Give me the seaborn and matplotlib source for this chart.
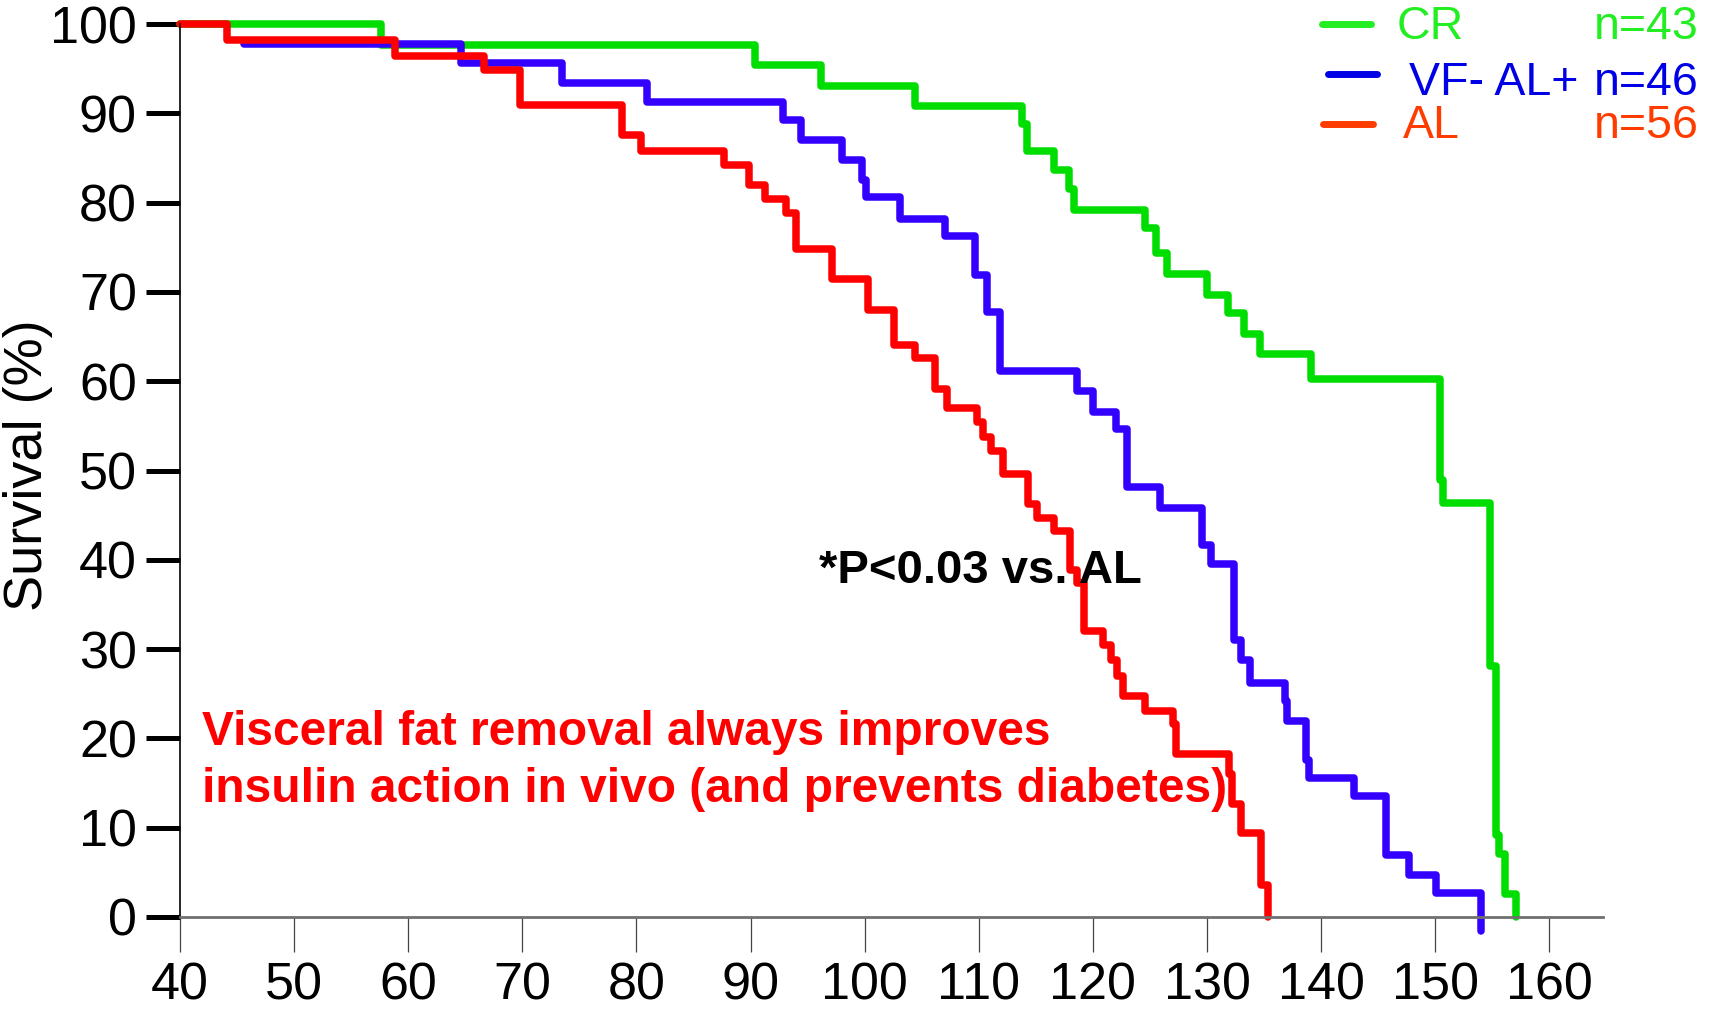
import matplotlib
matplotlib.use("Agg")
import matplotlib.pyplot as plt
import seaborn as sns
import pandas as pd
from matplotlib.lines import Line2D

# Survival curves: time (x) and % surviving after each step
cr_time = [40, 57.6, 90.4, 96.2, 104.4, 113.75, 114.25, 116.6, 117.9, 118.3,
           124.6, 125.5, 126.5, 130.0, 131.8, 133.2, 134.6, 139.1, 150.4, 150.7,
           154.8, 155.3, 155.6, 156.1, 157.1]
cr_surv = [100, 97.7, 95.4, 93.1, 90.8, 88.8, 85.8, 83.6, 81.5, 79.2,
           77.1, 74.4, 72.0, 69.7, 67.6, 65.3, 63.0, 60.3, 48.9, 46.4,
           28.1, 9.2, 7.0, 2.6, 0]

vf_time = [45.6, 64.6, 73.5, 80.9, 92.8, 94.4, 98.05, 99.8, 100.1, 103.1,
           107.0, 109.7, 110.7, 111.9, 118.6, 120.0, 122.0, 123.0, 125.9, 129.6,
           130.35, 132.4, 133.0, 133.8, 136.8, 137.0, 138.7, 138.9, 142.9, 145.7,
           147.7, 150.1, 154.0]
vf_surv = [97.8, 95.6, 93.4, 91.3, 89.3, 87.0, 84.8, 82.5, 80.6, 78.2,
           76.3, 71.9, 67.7, 61.1, 58.9, 56.6, 54.7, 48.1, 45.8, 41.7,
           39.5, 31.0, 28.8, 26.2, 24.2, 22.0, 17.6, 15.6, 13.5, 6.9,
           4.7, 2.7, -1.6]

al_time = [40, 44.1, 58.8, 66.6, 69.8, 78.7, 80.4, 87.7, 89.9, 91.3,
           93.1, 94.0, 97.1, 100.3, 102.6, 104.4, 106.2, 107.2, 109.8, 110.4,
           111.1, 112.1, 114.3, 115.1, 116.6, 118.0, 118.6, 119.25, 120.9, 121.6,
           122.1, 122.6, 124.55, 127.0, 127.3, 131.9, 132.2, 133.0, 134.7, 135.35]
al_surv = [100, 98.2, 96.4, 94.8, 90.9, 87.6, 85.8, 84.2, 82.0, 80.4,
           78.8, 74.8, 71.5, 68.0, 64.1, 62.6, 59.1, 57.0, 55.4, 53.7,
           52.2, 49.6, 46.3, 44.7, 43.2, 38.9, 37.4, 32.0, 30.5, 28.8,
           27.0, 24.7, 23.1, 21.6, 18.2, 16.0, 12.6, 9.4, 3.6, 0]

groups = ["CR", "VF- AL+", "AL"]
group_n = ["n=43", "n=46", "n=56"]
x_ticks = list(range(40, 161, 10))
y_ticks = list(range(0, 101, 10))

curve_colors = {"CR": "#00DD00", "VF- AL+": "#3300FF", "AL": "#FF0000"}
legend_colors = {"CR": "#22EE22", "VF- AL+": "#0000E6", "AL": "#FF3C00"}

df = pd.concat([
    pd.DataFrame({"time": cr_time, "surv": cr_surv, "group": "CR"}),
    pd.DataFrame({"time": vf_time, "surv": vf_surv, "group": "VF- AL+"}),
    pd.DataFrame({"time": al_time, "surv": al_surv, "group": "AL"}),
], ignore_index=True)

sns.set_style("white")
plt.rcParams["font.family"] = ["Liberation Sans", "DejaVu Sans"]
plt.rcParams["text.color"] = "black"
plt.rcParams["axes.labelcolor"] = "black"

W, H = 1710, 1010
fig = plt.figure(figsize=(W / 100, H / 100), dpi=100)
ax = fig.add_axes([180 / W, 1 - 917 / H, (1603 - 180) / W, (917 - 24) / H])

for g in groups:
    sub = df[df["group"] == g]
    sns.lineplot(data=sub, x="time", y="surv", ax=ax, color=curve_colors[g],
                 estimator=None, drawstyle="steps-post", linewidth=5.4,
                 clip_on=False, legend=False)

ax.set_xlim(40, 164.7)
ax.set_ylim(0, 100)
ax.set_xticks(x_ticks)
ax.set_yticks(y_ticks)
ax.set_xlabel("")
ax.set_ylabel("Survival (%)", fontsize=39)
ax.yaxis.set_label_coords(-0.089, 0.506)

for s in ["top", "right"]:
    ax.spines[s].set_visible(False)
ax.spines["left"].set_color("black")
ax.spines["left"].set_linewidth(1.2)
ax.spines["bottom"].set_color("#707070")
ax.spines["bottom"].set_linewidth(2)

ax.tick_params(axis="y", direction="out", length=24.5, width=3.6, pad=6.5,
               labelsize=37.5, color="black", labelcolor="black", left=True)
ax.tick_params(axis="x", direction="out", length=25, width=0.9, pad=7,
               labelsize=37.5, color="#444444", labelcolor="black", bottom=True)

# annotations
ax.text(96.0, 37.4, "*P<0.03 vs. AL", fontsize=34, fontweight="bold",
        color="black", va="baseline")
ax.text(41.9, 19.26, "Visceral fat removal always improves", fontsize=34.5,
        fontweight="bold", color="#FF0000", va="baseline")
ax.text(41.9, 12.9, "insulin action in vivo (and prevents diabetes)", fontsize=34.5,
        fontweight="bold", color="#FF0000", va="baseline")

# legend drawn by hand (label left, n right-aligned)
leg_rows = [(1322, 1371, 24, 1397, 39), (1328, 1377, 74, 1409, 95),
            (1323, 1373, 124, 1403, 138)]
for g, n, (x1, x2, ly, tx, ty) in zip(groups, group_n, leg_rows):
    c = legend_colors[g]
    fig.add_artist(Line2D([x1 / W, x2 / W], [1 - ly / H] * 2,
                          transform=fig.transFigure, color=c, linewidth=5))
    fig.text(tx / W, 1 - ty / H, g, fontsize=33.5, color=c, va="baseline", ha="left")
    fig.text(1699 / W, 1 - ty / H, n, fontsize=33.5, color=c, va="baseline", ha="right")

fig.savefig("out.png", dpi=100)
